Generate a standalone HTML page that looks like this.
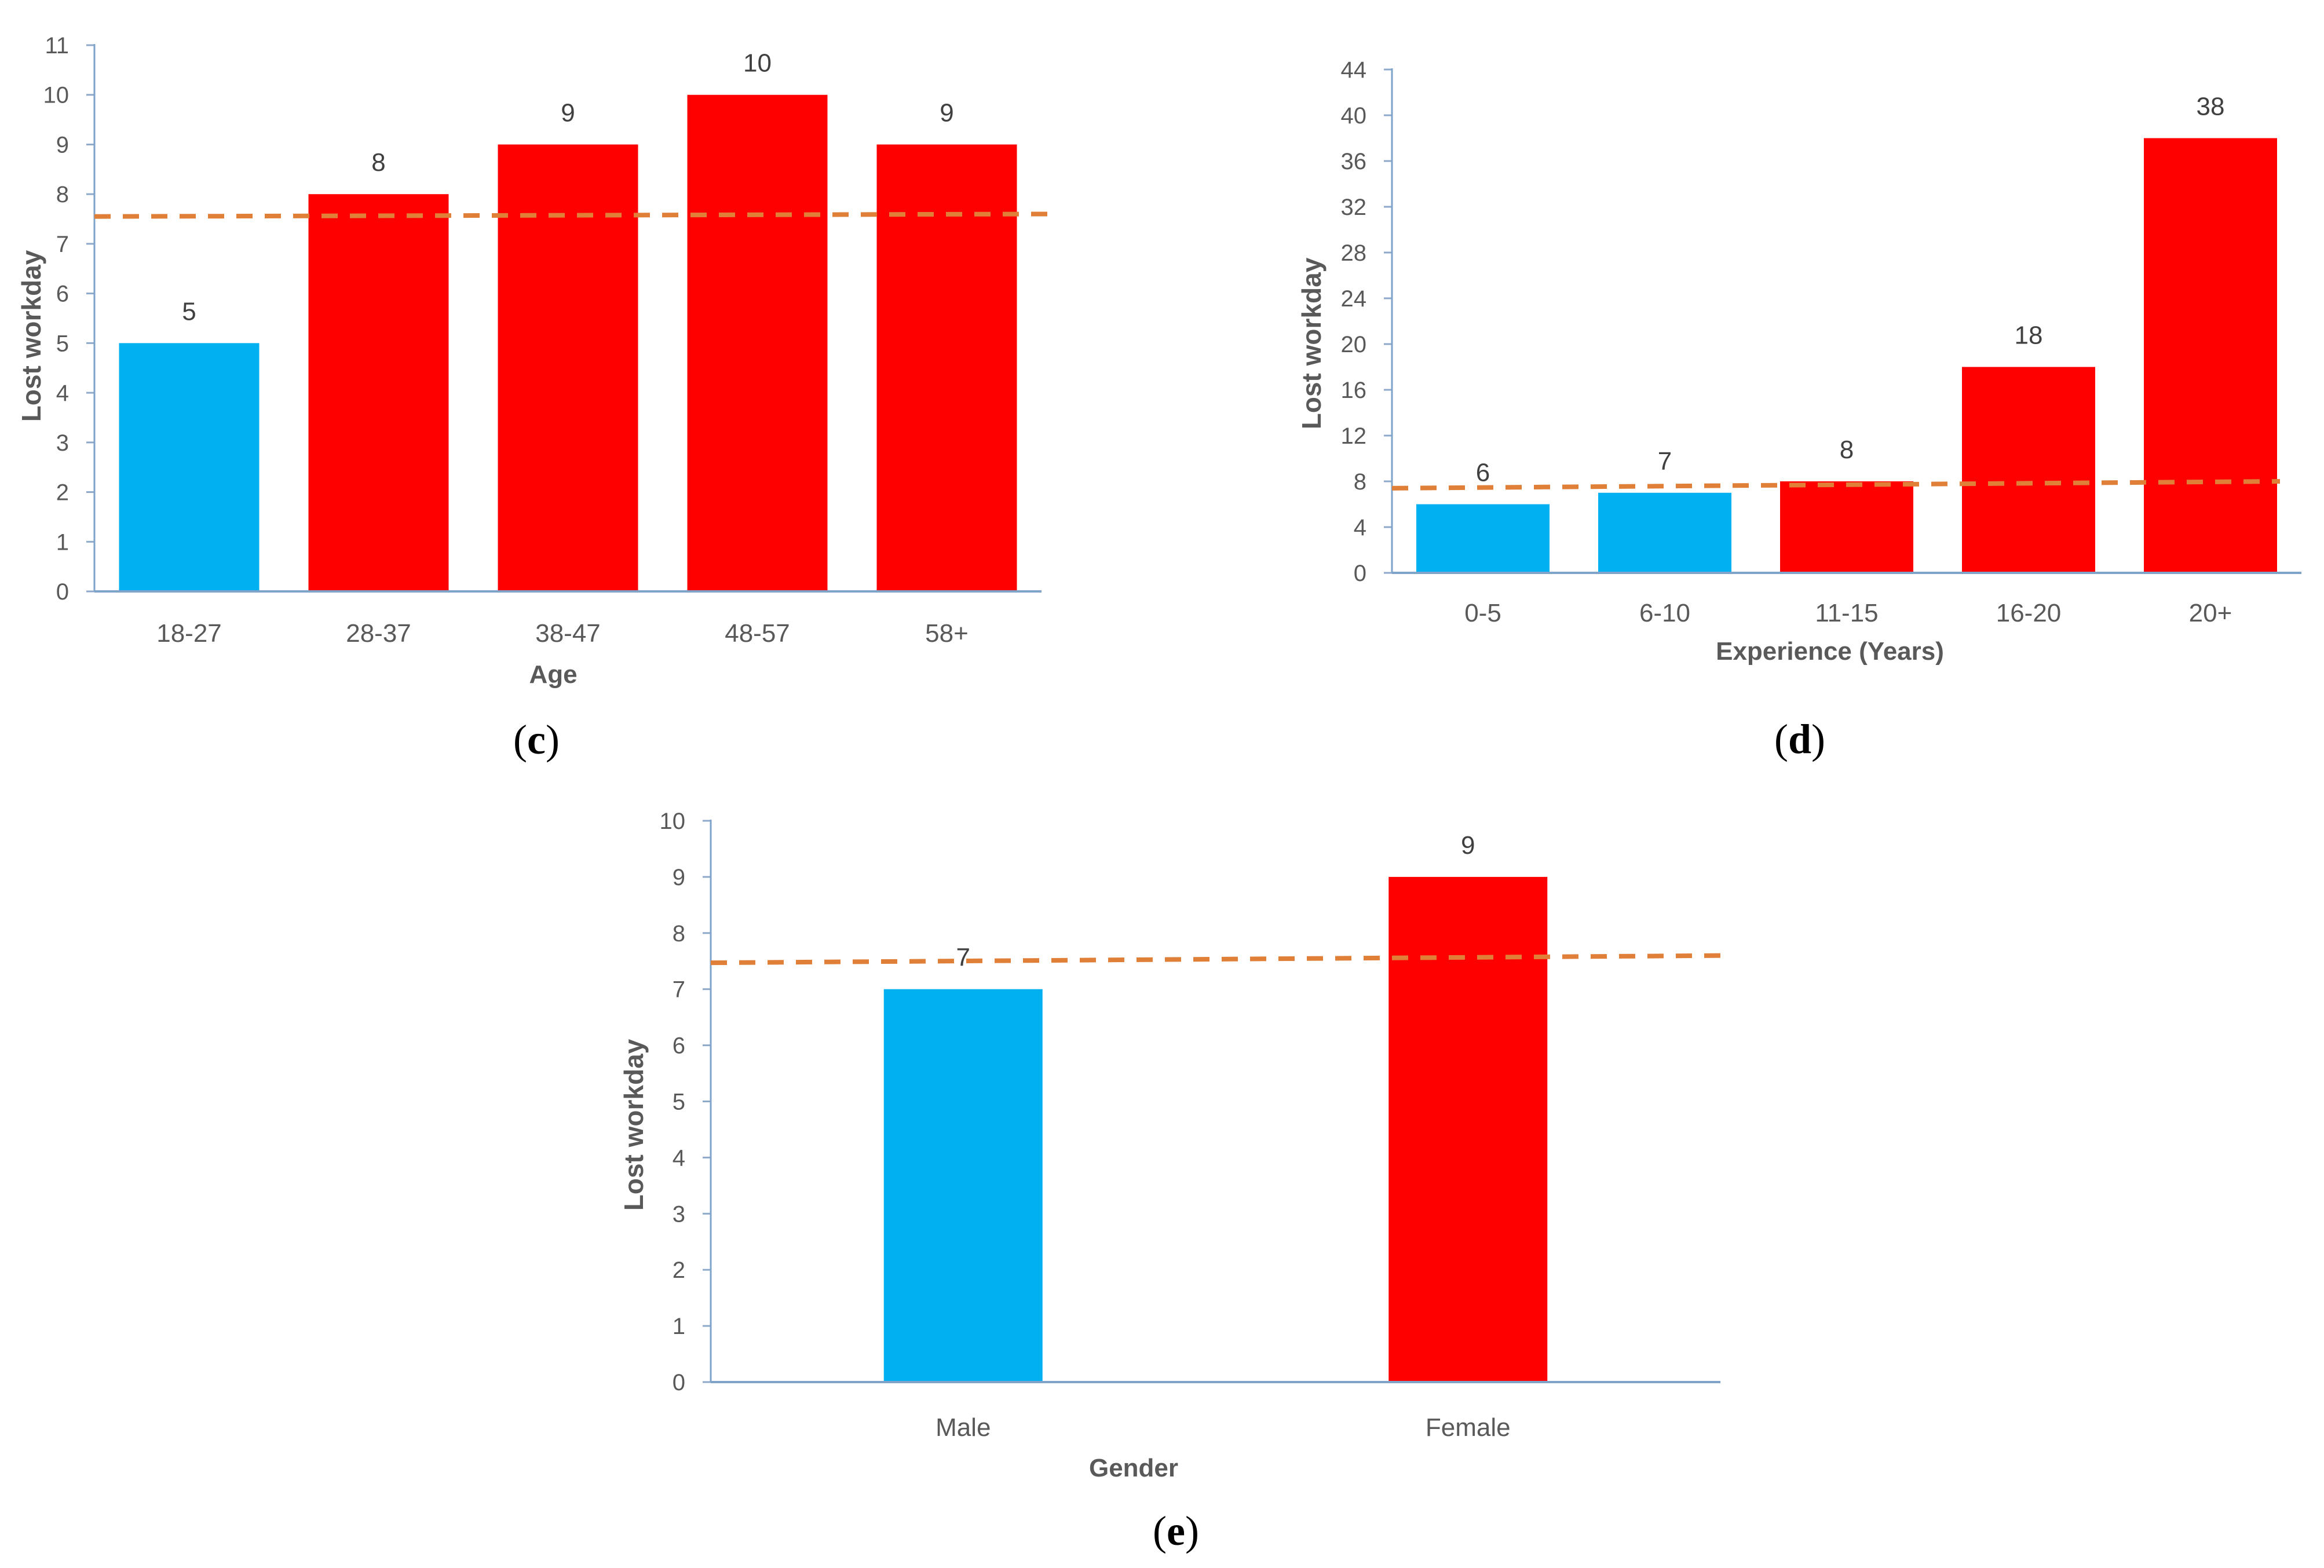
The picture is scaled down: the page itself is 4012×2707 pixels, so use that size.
<!DOCTYPE html>
<html><head><meta charset="utf-8"><style>
html,body{margin:0;padding:0;background:#fff;}
svg{display:block;}
text{font-family:"Liberation Sans",sans-serif;}
</style></head><body>
<svg id="fig" width="4012" height="2707" viewBox="0 0 4012 2707" xmlns="http://www.w3.org/2000/svg"></svg>
<script>
// Chart (c) Age
const ageCategories = ["18-27","28-37","38-47","48-57","58+"];
const ageValues = [5,8,9,10,9];
const ageTicks = [0,1,2,3,4,5,6,7,8,9,10,11];
const ageAvg = [7.55,7.6];
// Chart (d) Experience
const expCategories = ["0-5","6-10","11-15","16-20","20+"];
const expValues = [6,7,8,18,38];
const expTicks = [0,4,8,12,16,20,24,28,32,36,40,44];
const expAvg = [7.4,8.0];
// Chart (e) Gender
const genCategories = ["Male","Female"];
const genValues = [7,9];
const genTicks = [0,1,2,3,4,5,6,7,8,9,10];
const genAvg = [7.47,7.6];

const NS="http://www.w3.org/2000/svg";
const svg=document.getElementById('fig');
function mk(tag,attrs,parent,txt){const e=document.createElementNS(NS,tag);for(const k in attrs)e.setAttribute(k,attrs[k]);if(txt!==undefined)e.textContent=txt;(parent||svg).appendChild(e);return e;}

function chart(cfg){
  const g=mk('g',{});
  
  
  const ymax=cfg.ticks[cfg.ticks.length-1];
  const ys=v=>cfg.y0-(cfg.y0-cfg.yTop)*v/ymax;
  const n=cfg.cats.length;
  const pitch=(cfg.x1-cfg.x0)/n;
  const xc=i=>cfg.x0+pitch*(i+0.5);
  cfg.ticks.forEach(t=>{
    const tk=mk('line',{x1:cfg.x0-14,x2:cfg.x0,y1:ys(t),y2:ys(t),stroke:'#8eaacb','stroke-width':3},g);
    
    
    const tl=mk('text',{x:cfg.x0-44,y:ys(t)+14,'text-anchor':'end','font-size':40,fill:'#595959'},g,String(t));
    
    
  });
  cfg.vals.forEach((v,i)=>{
    const r=mk('rect',{x:xc(i)-cfg.bw/2,y:ys(v),width:cfg.bw,height:cfg.y0-ys(v),fill:v<cfg.thr?'#00b0f0':'#ff0000'},g);
    
    
    const vl=mk('text',{x:xc(i),y:ys(v)-40,'text-anchor':'middle','font-size':44,fill:'#404040'},g,String(v));
    
    
    const cl=mk('text',{x:xc(i),y:cfg.catY+16,'text-anchor':'middle','font-size':44,fill:'#595959'},g,cfg.cats[i]);
    
    
  });
  const ya=mk('line',{x1:cfg.x0,x2:cfg.x0,y1:cfg.yTop-2,y2:cfg.y0,stroke:'#7fa3c9','stroke-width':3},g);
  
  
  const xa=mk('line',{x1:cfg.x0,x2:cfg.x1,y1:cfg.y0,y2:cfg.y0,stroke:'#7fa3c9','stroke-width':4},g);
  
  
  const dl=mk('line',{x1:cfg.x0,x2:cfg.dashEnd,y1:ys(cfg.avg[0]),y2:ys(cfg.avg[1]),stroke:'#e07f38','stroke-width':8,'stroke-dasharray':'28 21'},g);
  
  
  const xt=mk('text',{x:cfg.xtX,y:cfg.xtY+16,'text-anchor':'middle','font-size':44,'font-weight':'bold',fill:'#595959'},g,cfg.xTitle);
  
  
  const yt=mk('text',{x:0,y:0,'text-anchor':'middle','font-size':46,'font-weight':'bold',fill:'#595959',transform:`translate(${cfg.ytX+16},${cfg.ytY}) rotate(-90)`},g,'Lost workday');
  
  
  const pl=mk('text',{x:cfg.plX,y:cfg.plY+24,'text-anchor':'middle','font-size':72,style:'font-family:"Liberation Serif",serif',fill:'#000'},g);
  
  
  pl.appendChild(document.createTextNode('('));
  mk('tspan',{'font-weight':'bold'},pl,cfg.panel);
  pl.appendChild(document.createTextNode(')'));
}

chart({name:'chart-age',cats:ageCategories,vals:ageValues,ticks:ageTicks,avg:ageAvg,thr:6,
  x0:163,x1:1798,y0:1021,yTop:78,bw:242,dashEnd:1810,catY:1092,xTitle:'Age',xtX:955,xtY:1163,
  ytX:54,ytY:580,panel:'c',plX:926,plY:1277});
chart({name:'chart-experience',cats:expCategories,vals:expValues,ticks:expTicks,avg:expAvg,thr:7.5,
  x0:2403,x1:3973,y0:989,yTop:120,bw:230,dashEnd:3936,catY:1057,xTitle:'Experience (Years)',xtX:3159,xtY:1123,
  ytX:2264,ytY:593,panel:'d',plX:3107,plY:1276});
chart({name:'chart-gender',cats:genCategories,vals:genValues,ticks:genTicks,avg:genAvg,thr:8,
  x0:1227,x1:2970,y0:2386,yTop:1417,bw:274,dashEnd:2987,catY:2463,xTitle:'Gender',xtX:1957,xtY:2533,
  ytX:1094,ytY:1942,panel:'e',plX:2030,plY:2643});
</script>
</body></html>
